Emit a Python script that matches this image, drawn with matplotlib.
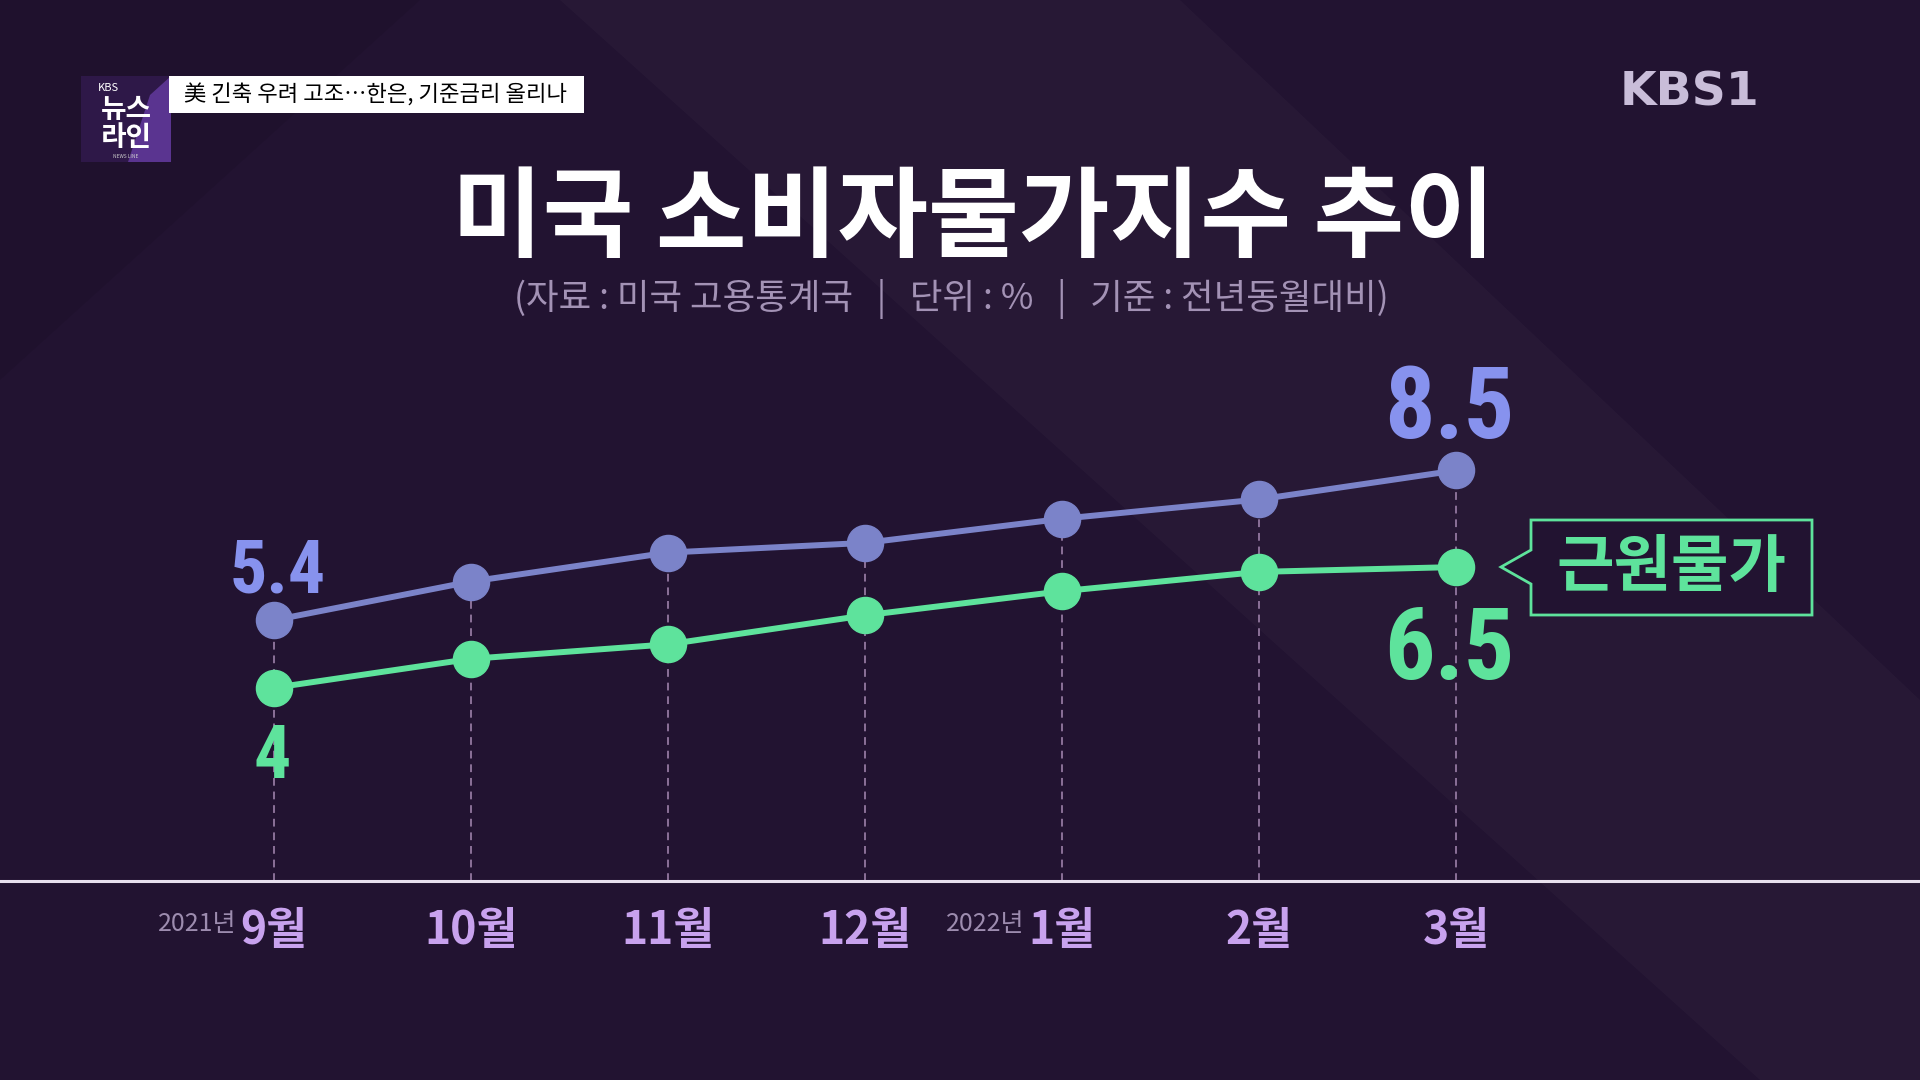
import matplotlib
matplotlib.use("Agg")
import matplotlib.pyplot as plt
from matplotlib.patches import Polygon, Rectangle

plt.rcParams["font.family"] = ["Noto Sans CJK KR", "DejaVu Sans"]

# data
months = ["9월", "10월", "11월", "12월", "1월", "2월", "3월"]
year_tags = ["2021년", "", "", "", "2022년", "", ""]
cpi = [5.4, 6.2, 6.8, 7.0, 7.5, 7.9, 8.5]
core = [4.0, 4.6, 4.9, 5.5, 6.0, 6.4, 6.5]

title = "미국 소비자물가지수 추이"
subtitle = "(자료 : 미국 고용통계국   |   단위 : %   |   기준 : 전년동월대비)"
legend_label = "근원물가"
headline = "美 긴축 우려 고조…한은, 기준금리 올리나"

bg = "#221331"
blue = "#7b83c9"
blue_txt = "#8792ee"
green = "#5ee39c"
num_font = ["Roboto Condensed", "Liberation Sans Narrow", "Roboto", "DejaVu Sans"]

fig = plt.figure(figsize=(19.2, 10.8), dpi=100, facecolor=bg)

# overlay in pixel coordinates for decoration
ov = fig.add_axes([0, 0, 1, 1])
ov.set_xlim(0, 1920)
ov.set_ylim(1080, 0)
ov.axis("off")
ov.set_facecolor(bg)
ov.add_patch(Polygon([(560, 0), (1180, 0), (1920, 700), (1920, 1080), (1760, 1080)],
                     closed=True, color="white", alpha=0.025, lw=0))
ov.add_patch(Polygon([(0, 0), (420, 0), (0, 380)], closed=True, color="black", alpha=0.08, lw=0))

# chart axes, mapped so index 0 -> x=274px, value 0 -> y=881px
ax = fig.add_axes([0, 0, 1, 1])
ax.patch.set_alpha(0)
ax.set_xlim(-274 / 197, (1920 - 274) / 197)
ax.set_ylim(-(1080 - 881) / 48.3, 881 / 48.3)
ax.axis("off")

x = list(range(len(months)))
ax.vlines(x, 0, cpi, colors="#8b7198", lw=1.4, linestyles=(0, (4, 3)), zorder=1)
ax.axhline(0, color="#e8e0ee", lw=2.2, zorder=2)

ax.plot(x, cpi, color=blue, lw=4.3, marker="o", ms=26, mec=blue, mfc=blue, zorder=3)
ax.plot(x, core, color=green, lw=4.3, marker="o", ms=26, mec=green, mfc=green, zorder=3)

# value labels at ends
ax.annotate(f"{cpi[0]:g}", (x[0], cpi[0]), xytext=(4, 28), textcoords="offset pixels",
            ha="center", va="baseline", fontsize=53, fontweight="bold", family=num_font, color=blue_txt)
ax.annotate(f"{core[0]:g}", (x[0], core[0]), xytext=(-2, -90), textcoords="offset pixels",
            ha="center", va="baseline", fontsize=53, fontweight="bold", family=num_font, color=green)
ax.annotate(f"{cpi[-1]:g}", (x[-1], cpi[-1]), xytext=(-7, 32), textcoords="offset pixels",
            ha="center", va="baseline", fontsize=72, fontweight="bold", family=num_font, color=blue_txt)
ax.annotate(f"{core[-1]:g}", (x[-1], core[-1]), xytext=(-7, -112), textcoords="offset pixels",
            ha="center", va="baseline", fontsize=72, fontweight="bold", family=num_font, color=green)

# month labels
for i, m in enumerate(months):
    ax.annotate(m, (i, 0), xytext=(0, -50), textcoords="offset pixels", ha="center", va="center",
                fontsize=32, fontweight="bold", color="#c8a2ee")
    if year_tags[i]:
        ax.annotate(year_tags[i], (i, 0), xytext=(-38, -43), textcoords="offset pixels",
                    ha="right", va="center", fontsize=18, color="#9d8caf")

# legend callout for core series
ov.add_patch(Polygon([(1531, 520), (1812, 520), (1812, 615), (1531, 615), (1531, 584),
                      (1501, 567), (1531, 550)], closed=True, fc=bg, ec=green, lw=2))
ov.text(1671, 567, legend_label, ha="center", va="center", fontsize=45,
        fontweight="bold", color=green)

# titles
fig.text(0.507, 1 - 220 / 1080, title, ha="center", va="center", fontsize=71,
         fontweight="black", color="white")
fig.text(0.4955, 1 - 299 / 1080, subtitle, ha="center", va="center", fontsize=25.5,
         color="#a392b5")

# broadcaster marks
ov.add_patch(Rectangle((81, 76), 90, 86, color="#2e1848", lw=0))
ov.add_patch(Polygon([(150, 95), (171, 76), (171, 162), (128, 162)], closed=True,
                     color="#5a3490", lw=0))
ov.text(98, 88, "KBS", fontsize=8, color="white", ha="left", va="center")
ov.text(126, 110, "뉴스", fontsize=20, fontweight="black", color="white", ha="center", va="center")
ov.text(126, 138, "라인", fontsize=20, fontweight="black", color="white", ha="center", va="center")
ov.text(126, 157, "NEWS LINE", fontsize=3.5, color="#cccccc", ha="center", va="center")
ov.add_patch(Rectangle((169, 76), 415, 37, color="white", lw=0))
ov.text(376, 95, headline, fontsize=16, fontweight="medium", color="black", ha="center", va="center")
ov.text(1620, 93, "KBS1", fontsize=34, fontweight="bold", color="#c9bdd9",
        family=["DejaVu Sans"], ha="left", va="center")

fig.savefig("out.png", dpi=100, facecolor=bg)
